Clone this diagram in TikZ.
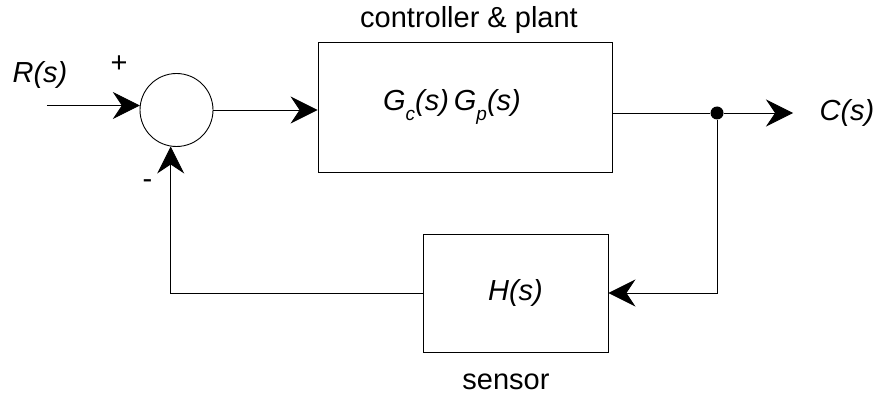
\documentclass[tikz,border=0pt]{standalone}
\usepackage{fontspec}
\setmainfont{Liberation Sans}
\usepackage{tikz}
\usetikzlibrary{positioning,arrows.meta,calc}
\newcommand{\sigfont}{\fontsize{29}{33}\selectfont\itshape}
\newcommand{\capfont}{\fontsize{29}{33}\selectfont}
\newcommand{\lowsub}[1]{\raisebox{-10pt}{\fontsize{19}{22}\selectfont #1}}
\tikzset{
  blockbox/.style={draw, line width=0.9pt, fill=white, align=center, font=\sigfont, inner sep=0pt},
  sumnode/.style={circle, draw, line width=0.9pt, minimum size=73pt, inner sep=0pt},
  sigarr/.style={-{Stealth[length=27pt, width=27pt, inset=9pt]}, line width=0.9pt},
  sigline/.style={line width=0.9pt},
  siglabel/.style={font=\sigfont, inner sep=0pt},
  caplabel/.style={font=\capfont, inner sep=0pt}
}

\begin{document}
\begin{tikzpicture}[x=1pt, y=-1pt]
\useasboundingbox (0,0) rectangle (877,398);
% blocks
\node[sumnode] (sum) at (176.5,110) {};
\node[blockbox, minimum width=294pt, minimum height=130pt] (plant) at (465,107) {G\lowsub{c}(s)\,G\lowsub{p}(s)\hspace*{26pt}};
\node[blockbox, minimum width=185pt, minimum height=118pt] (sensor) at (515.5,293) {H(s)};
\node[circle, fill, inner sep=0pt, minimum size=13pt] (tap) at (717,113) {};
\coordinate (rin) at ($(sum.173)+(-93,0)$);
\coordinate (cout) at (793,113);
% labels
\node[siglabel] (rlab) at (40,75) {R(s)};
\node[siglabel] (clab) at (847,113) {C(s)};
\node[caplabel] (plus) at (119,64) {+};
\node[caplabel] (minus) at (147.5,184) {-};
\node[caplabel] (plantlab) at (469,20) {controller \& plant};
\node[caplabel] (sensorlab) at (506,382) {sensor};
% signals
\draw[sigarr] (rin) -- (sum.173);
\draw[sigarr] (sum.east) -- (sum.east -| plant.west);
\draw[sigline] (plant.east |- tap) -- (tap);
\draw[sigarr] (tap) -- (cout);
\draw[sigarr] (tap) |- (sensor.east);
\draw[sigarr] (sensor.west) -| (sum.-99);
\end{tikzpicture}
\end{document}
